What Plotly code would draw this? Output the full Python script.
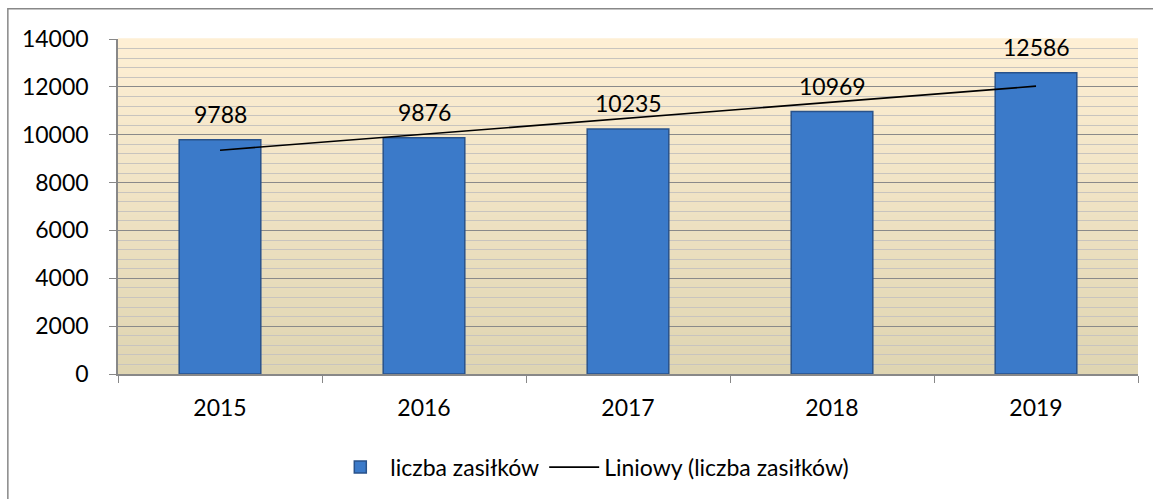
import numpy as np
import plotly.graph_objects as go

# dane
lata = ["2015", "2016", "2017", "2018", "2019"]
liczba_zasilkow = [9788, 9876, 10235, 10969, 12586]
y_ticks = [0, 2000, 4000, 6000, 8000, 10000, 12000, 14000]

FONT = "Lato"
FS = 23

# linia trendu (liniowa, jak w Excelu)
xi = np.arange(1, len(lata) + 1)
a, b = np.polyfit(xi, liczba_zasilkow, 1)
trend = (a * xi + b).tolist()

fig = go.Figure()
fig.add_trace(go.Bar(
    x=lata, y=liczba_zasilkow, name="liczba zasiłków",
    width=0.4,
    marker=dict(color="#3B7AC9", line=dict(color="#29528A", width=1.5)),
    hoverinfo="x+y",
))
fig.add_trace(go.Scatter(
    x=lata, y=trend, mode="lines", name="Liniowy (liczba zasiłków)",
    line=dict(color="black", width=1.6),
))

# etykiety danych nad słupkami
for i, v in enumerate(liczba_zasilkow):
    fig.add_annotation(x=i, y=v, text=str(v), showarrow=False,
                       yshift=26, font=dict(family=FONT, size=FS, color="black"))

# tło z gradientem (pasy od jasnego brzoskwiniowego do beżu)
top = np.array([254, 239, 212])
bot = np.array([223, 213, 178])
n = 40
shapes = []
for i in range(n):
    t = i / (n - 1)
    c = (bot * (1 - t) + top * t).round().astype(int)
    shapes.append(dict(type="rect", xref="paper", yref="paper",
                       x0=0, x1=1, y0=i / n, y1=(i + 1) / n + 0.002,
                       fillcolor=f"rgb({c[0]},{c[1]},{c[2]})",
                       line=dict(width=0), layer="below"))
# ramka wykresu
shapes.append(dict(type="rect", xref="paper", yref="paper",
                   x0=-0.108, x1=1.2, y0=-0.6, y1=1.09,
                   line=dict(color="#888888", width=1.5), layer="below"))

fig.update_layout(
    width=1153, height=499,
    margin=dict(l=118, r=15, t=39, b=125, autoexpand=False),
    paper_bgcolor="white", plot_bgcolor="rgba(0,0,0,0)",
    font=dict(family=FONT, size=FS, color="black"),
    shapes=shapes,
    showlegend=True,
    legend=dict(orientation="h", x=0.465, xanchor="center", y=-0.278, yanchor="middle",
                font=dict(family=FONT, size=FS), itemwidth=50,
                bgcolor="rgba(0,0,0,0)"),
)
fig.update_xaxes(
    type="category", tickangle=0, range=[-0.5, 4.5], autorange=False,
    showgrid=False, showline=True, linecolor="#888888", linewidth=1.5,
    ticks="outside", tickson="boundaries", ticklen=7, tickcolor="#888888",
    ticklabelstandoff=13,
)
fig.update_yaxes(
    range=[0, 14000], autorange=False, tickvals=y_ticks, ticktext=[str(v) for v in y_ticks],
    ticks="outside", ticklen=7,
    tickcolor="#888888", showline=True, linecolor="#888888", linewidth=1.5,
    gridcolor="#8A8A8A", gridwidth=1.2, zeroline=False,
    ticklabelstandoff=16,
    minor=dict(dtick=400, showgrid=True, gridcolor="#C8C4BE", gridwidth=1.2, ticks=""),
)

fig.write_html("out.html", config={"displayModeBar": False},
               post_script="document.body.style.margin='0px';")
